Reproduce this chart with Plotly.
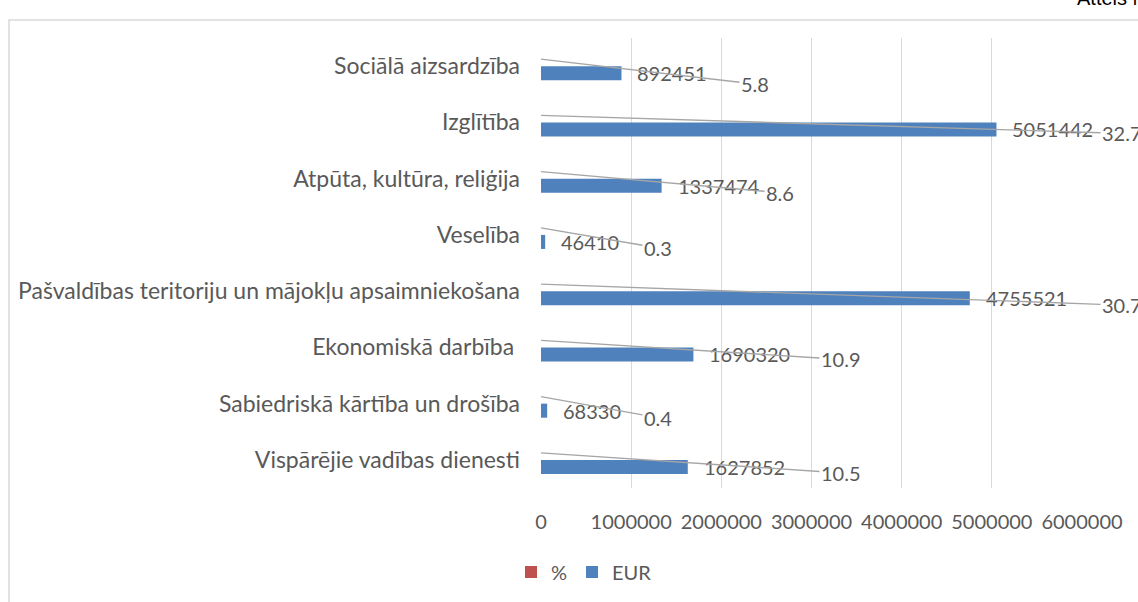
import plotly.graph_objects as go

W, H = 1138, 602

categories = [
    "Vispārējie vadības dienesti",
    "Sabiedriskā kārtība un drošība",
    "Ekonomiskā darbība ",
    "Pašvaldības teritoriju un mājokļu apsaimniekošana",
    "Veselība",
    "Atpūta, kultūra, reliģija",
    "Izglītība",
    "Sociālā aizsardzība",
]
eur_values = [1627852, 68330, 1690320, 4755521, 46410, 1337474, 5051442, 892451]
pct_values = [10.5, 0.4, 10.9, 30.7, 0.3, 8.6, 32.7, 5.8]
x_tickvals = [0, 1000000, 2000000, 3000000, 4000000, 5000000, 6000000]

# label offsets (pixels) for the % leader-line labels
pct_label_dx = [300, 117, 300, 581, 117, 239, 581, 214]
pct_label_dy = [20, 21, 19, 21, 20, 21, 18, 25]

FONT = "Lato"
GRAY = "#595959"
BLUE = "#4f81bd"
RED = "#c0504d"
FS = 20

fig = go.Figure()
fig.add_trace(go.Bar(
    name="EUR", y=categories, x=eur_values, orientation="h",
    marker=dict(color=BLUE, line=dict(width=0)),
))
fig.add_trace(go.Bar(
    name="%", y=categories, x=pct_values, orientation="h",
    marker=dict(color=RED, line=dict(width=0)),
))

annotations = []
for c, v in zip(categories, eur_values):
    annotations.append(dict(
        x=v, y=c, xref="x", yref="y", text=str(v), showarrow=False,
        xanchor="left", yanchor="middle", xshift=14, yshift=-7,
        font=dict(family=FONT, size=FS, color=GRAY),
    ))
for c, v, dx, dy in zip(categories, pct_values, pct_label_dx, pct_label_dy):
    annotations.append(dict(
        x=v, y=c, xref="x", yref="y", text=str(v), showarrow=True,
        arrowhead=0, arrowwidth=1.4, arrowcolor="#a6a6a6",
        ax=dx, ay=dy, axref="pixel", ayref="pixel", yshift=7,
        standoff=0, startstandoff=0,
        font=dict(family=FONT, size=FS, color=GRAY),
    ))
annotations.append(dict(
    x=1075 / W, y=1 - 11 / H, xref="paper", yref="paper",
    text="Attēls Nr.", showarrow=False, xanchor="left", yanchor="bottom",
    font=dict(family="Liberation Sans", size=20, color="#000000"),
))

fig.update_layout(
    template="none",
    width=W, height=H, autosize=False,
    margin=dict(l=0, r=0, t=0, b=0, pad=0),
    paper_bgcolor="white", plot_bgcolor="white",
    barmode="group", bargap=0.5, bargroupgap=0,
    font=dict(family=FONT, size=FS, color=GRAY),
    xaxis=dict(
        domain=[541 / W, 1082 / W], range=[0, 6000000], automargin=False,
        tickvals=x_tickvals, ticktext=[str(v) for v in x_tickvals],
        showgrid=True, gridcolor="#d9d9d9", gridwidth=1,
        zeroline=False, showline=False, ticks="",
        ticklabelstandoff=20,
        tickfont=dict(family=FONT, size=FS, color=GRAY),
    ),
    yaxis=dict(
        domain=[1 - 488 / H, 1 - 38 / H], type="category", automargin=False,
        showgrid=False, zeroline=False, showline=False, ticks="",
        ticklabelstandoff=20,
        tickfont=dict(family=FONT, size=23, color=GRAY),
    ),
    showlegend=True,
    legend=dict(
        orientation="h", traceorder="reversed",
        x=584 / W, y=1 - 572 / H, xanchor="center", yanchor="middle",
        font=dict(family=FONT, size=FS, color=GRAY),
        itemwidth=30, itemsizing="constant",
        bgcolor="rgba(0,0,0,0)",
    ),
    annotations=annotations,
    shapes=[dict(
        type="rect", xref="paper", yref="paper",
        x0=9 / W, x1=1.05, y0=-0.05, y1=1 - 20 / H,
        line=dict(color="#d9d9d9", width=1.5), fillcolor="rgba(0,0,0,0)",
        layer="below",
    )],
)

fig.write_html(
    "out.html",
    config={"responsive": False, "displayModeBar": False},
    post_script="document.body.style.margin='0';document.body.style.overflow='hidden';",
)
